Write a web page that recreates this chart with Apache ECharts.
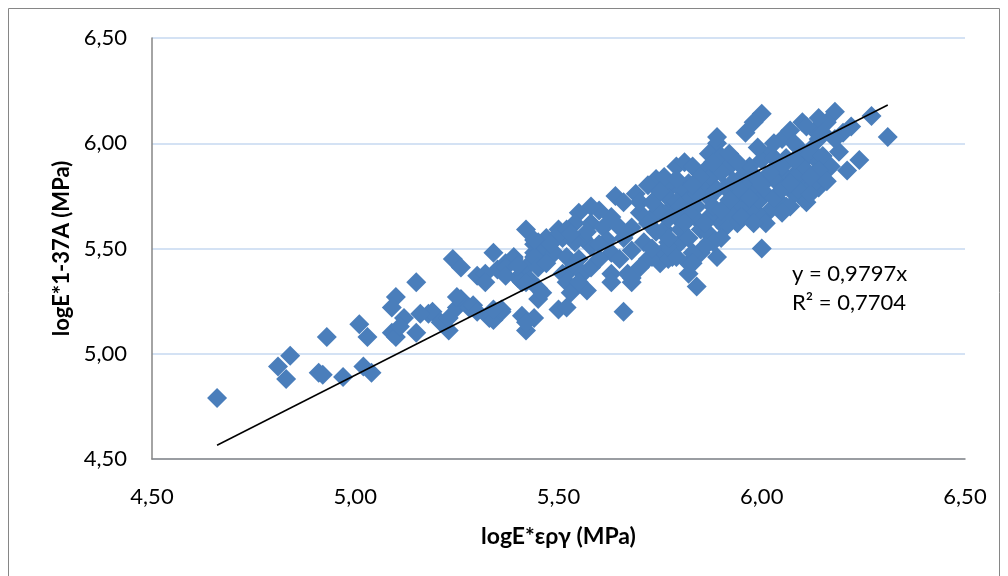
<!DOCTYPE html>
<html>
<head>
<meta charset="utf-8">
<script src="https://cdn.jsdelivr.net/npm/echarts@6/dist/echarts.min.js"></script>
<style>
  html, body { margin: 0; padding: 0; background: #ffffff; }
  #chart { width: 1008px; height: 576px; }
</style>
</head>
<body>
<div id="chart"></div>
<script>
// logE*εργ (MPa) — horizontal values
const logEepy = [
  4.66, 4.81, 4.83, 4.84, 4.91, 4.92, 4.93, 4.97, 5.01, 5.03, 5.02, 5.04, 5.10, 5.09, 5.12, 5.09,
  5.10, 5.11, 5.15, 5.15, 5.18, 5.19, 5.21, 5.23, 5.23, 5.25, 5.26, 5.28, 5.29, 5.30, 5.33, 5.34,
  5.36, 5.41, 5.42, 5.44, 5.45, 5.45, 5.24, 5.26, 5.30, 5.32, 5.32, 5.35, 5.37, 5.39, 5.41, 5.42,
  5.44, 5.41, 5.43, 5.34, 5.42, 5.44, 5.79, 5.74, 5.72, 5.64, 5.66, 5.69, 5.77, 5.70, 5.73, 5.75,
  5.78, 5.76, 5.77, 5.78, 5.75, 5.72, 5.68, 5.66, 5.68, 5.63, 5.60, 5.58, 5.55, 5.54, 5.58, 5.61,
  5.62, 5.58, 5.56, 5.54, 5.51, 5.50, 5.47, 5.45, 5.46, 5.44, 5.49, 5.52, 5.55, 5.53, 5.56, 5.58,
  5.63, 5.65, 5.63, 5.67, 5.68, 5.63, 5.70, 5.73, 5.76, 5.39, 5.37, 5.40, 5.45, 5.42, 5.37, 5.46,
  5.51, 5.52, 5.53, 5.57, 5.55, 5.36, 5.50, 5.52, 5.66, 5.44, 5.84, 5.89, 6.00, 5.82, 5.68, 5.77,
  5.79, 5.82, 5.85, 5.87, 5.80, 5.77, 6.00, 5.96, 5.98, 5.89, 5.87, 5.90, 5.81, 5.83, 5.86, 6.05,
  6.07, 6.10, 6.13, 6.09, 6.11, 6.14, 6.06, 6.02, 6.00, 5.97, 5.95, 5.92, 5.90, 5.87, 5.85, 5.82,
  5.80, 5.77, 5.76, 5.77, 5.79, 5.82, 5.84, 5.87, 5.89, 5.91, 5.94, 5.96, 5.99, 6.01, 6.04, 6.06,
  6.09, 6.11, 6.14, 6.10, 6.11, 6.08, 6.06, 6.04, 6.01, 5.99, 6.02, 6.00, 6.01, 5.97, 5.95, 5.92,
  5.94, 5.91, 5.89, 5.87, 5.84, 5.82, 5.79, 5.77, 5.77, 5.80, 5.82, 5.85, 5.87, 5.90, 5.88, 5.86,
  5.83, 5.83, 6.18, 6.27, 6.31, 6.24, 6.21, 6.17, 6.19, 6.22, 6.20, 6.16, 6.14, 6.11, 6.14, 6.18,
  6.12, 6.10, 6.13, 6.11, 6.15, 6.07, 6.05, 6.13, 6.14, 6.08, 6.04, 6.08, 6.05, 6.03, 6.09, 6.12,
  5.89, 5.50, 5.52, 5.42, 5.25, 5.34, 5.16,
  5.70, 5.72, 5.74, 5.80, 5.81, 5.84, 5.86, 5.88, 5.90, 5.92, 5.93, 5.95, 5.97, 5.98, 6.00, 6.02,
  6.03, 6.05, 6.07, 6.08, 5.92, 5.94, 5.88, 5.85, 5.83, 5.79, 5.75, 5.73, 5.65, 5.60, 5.57, 5.53,
  5.48, 5.40, 5.47, 5.60, 5.71, 5.73, 5.95, 5.98, 6.12, 6.16, 6.03, 5.99, 6.15
];

// logE*1-37A (MPa) — vertical values, same order
const logE137A = [
  4.79, 4.94, 4.88, 4.99, 4.91, 4.90, 5.08, 4.89, 5.14, 5.08, 4.94, 4.91, 5.27, 5.22, 5.17, 5.10,
  5.08, 5.13, 5.34, 5.10, 5.19, 5.20, 5.15, 5.11, 5.17, 5.22, 5.26, 5.22, 5.23, 5.20, 5.17, 5.16,
  5.20, 5.18, 5.11, 5.17, 5.26, 5.31, 5.45, 5.41, 5.37, 5.38, 5.34, 5.40, 5.43, 5.46, 5.38, 5.41,
  5.48, 5.34, 5.35, 5.48, 5.59, 5.52, 5.89, 5.83, 5.80, 5.75, 5.72, 5.76, 5.78, 5.67, 5.65, 5.68,
  5.70, 5.59, 5.53, 5.46, 5.43, 5.45, 5.49, 5.55, 5.60, 5.65, 5.68, 5.70, 5.67, 5.62, 5.62, 5.60,
  5.54, 5.51, 5.55, 5.53, 5.55, 5.59, 5.55, 5.53, 5.49, 5.46, 5.48, 5.46, 5.45, 5.40, 5.38, 5.41,
  5.48, 5.45, 5.38, 5.38, 5.34, 5.34, 5.41, 5.46, 5.48, 5.45, 5.41, 5.36, 5.41, 5.34, 5.37, 5.29,
  5.38, 5.34, 5.29, 5.30, 5.34, 5.21, 5.21, 5.22, 5.20, 5.54, 5.32, 5.46, 5.50, 5.38, 5.36, 5.45,
  5.46, 5.43, 5.48, 5.53, 5.53, 5.51, 6.14, 6.05, 6.10, 6.00, 5.95, 5.94, 5.91, 5.89, 5.87, 6.02,
  6.06, 6.10, 6.06, 5.98, 5.93, 5.91, 5.93, 5.95, 5.92, 5.89, 5.84, 5.89, 5.86, 5.83, 5.79, 5.81,
  5.78, 5.81, 5.84, 5.74, 5.72, 5.73, 5.70, 5.74, 5.78, 5.79, 5.76, 5.81, 5.78, 5.83, 5.87, 5.84,
  5.87, 5.83, 5.79, 5.74, 5.72, 5.76, 5.70, 5.73, 5.76, 5.72, 5.68, 5.65, 5.62, 5.68, 5.70, 5.67,
  5.62, 5.60, 5.64, 5.65, 5.64, 5.67, 5.65, 5.64, 5.55, 5.59, 5.55, 5.59, 5.57, 5.55, 5.53, 5.51,
  5.48, 5.43, 6.15, 6.13, 6.03, 5.92, 5.87, 5.89, 5.96, 6.08, 6.05, 6.10, 6.12, 6.08, 6.02, 6.02,
  5.97, 5.89, 5.86, 5.79, 5.94, 5.70, 5.67, 5.81, 5.87, 6.00, 5.81, 5.84, 5.89, 5.93, 5.78, 5.76,
  6.03, 5.57, 5.59, 5.15, 5.27, 5.21, 5.19,
  5.72, 5.62, 5.58, 5.70, 5.62, 5.76, 5.62, 5.70, 5.68, 5.73, 5.82, 5.77, 5.74, 5.85, 5.80, 5.86,
  5.74, 5.78, 5.81, 5.92, 5.95, 5.91, 5.91, 5.84, 5.80, 5.83, 5.77, 5.72, 5.60, 5.52, 5.58, 5.57,
  5.52, 5.42, 5.43, 5.45, 5.53, 5.50, 5.65, 5.62, 5.84, 5.82, 6.00, 5.98, 6.05
];

// Linear trendline through the origin and its fit statistic
const trendSlope = 0.9797;
const trendR2 = 0.7704;

// Axis ranges and tick step (shared by both axes)
const axisMin = 4.5;
const axisMax = 6.5;
const axisStep = 0.5;

const comma = (v, d) => v.toFixed(d).replace('.', ',');

const points = logEepy.map((x, i) => [x, logE137A[i]]);
const xLo = Math.min(...logEepy);
const xHi = Math.max(...logEepy);
const trendPoints = [[xLo, trendSlope * xLo], [xHi, trendSlope * xHi]];

const font = 'Lato, "Open Sans", "DejaVu Sans", sans-serif';

const chart = echarts.init(document.getElementById('chart'), null, { renderer: 'canvas' });
chart.setOption({
  animation: false,
  backgroundColor: '#ffffff',
  grid: { left: 152, right: 43, top: 38, bottom: 117, containLabel: false },
  xAxis: {
    type: 'value',
    min: axisMin, max: axisMax, interval: axisStep,
    name: 'logE*εργ (MPa)',
    nameLocation: 'middle',
    nameGap: 66,
    nameTextStyle: { fontFamily: font, fontWeight: 'bold', fontSize: 23, color: '#000000' },
    axisLine: { show: true, lineStyle: { color: '#868686', width: 1.5 } },
    axisTick: { show: false },
    splitLine: { show: false },
    axisLabel: {
      margin: 27, fontFamily: font, fontSize: 22, color: '#000000',
      formatter: v => comma(v, 2)
    }
  },
  yAxis: {
    type: 'value',
    min: axisMin, max: axisMax, interval: axisStep,
    name: 'logE*1-37A (MPa)',
    nameLocation: 'middle',
    nameRotate: 90,
    nameGap: 78,
    nameTextStyle: { fontFamily: font, fontWeight: 'bold', fontSize: 22, color: '#000000' },
    axisLine: { show: true, lineStyle: { color: '#868686', width: 1.5 } },
    axisTick: { show: false },
    splitLine: { show: true, lineStyle: { color: '#C6D9F1', width: 1.5 } },
    axisLabel: {
      margin: 25, fontFamily: font, fontSize: 22, color: '#000000',
      formatter: v => comma(v, 2)
    }
  },
  series: [
    {
      type: 'scatter',
      data: points,
      symbol: 'diamond',
      symbolSize: 20,
      itemStyle: { color: '#4A7EBB', opacity: 1 },
      emphasis: { disabled: true },
      z: 2
    },
    {
      type: 'line',
      data: trendPoints,
      symbol: 'none',
      lineStyle: { color: '#000000', width: 1.5 },
      emphasis: { disabled: true },
      z: 3
    }
  ],
  graphic: [
    {
      type: 'rect',
      shape: { x: 8.5, y: 8.5, width: 991, height: 600 },
      style: { fill: 'none', stroke: '#868686', lineWidth: 1 },
      silent: true, z: -1
    },
    {
      type: 'text', left: 792, top: 263,
      style: { text: 'y = ' + comma(trendSlope, 4) + 'x', font: '22px ' + font, fill: '#000000' }
    },
    {
      type: 'text', left: 792, top: 292,
      style: { text: 'R² = ' + comma(trendR2, 4), font: '22px ' + font, fill: '#000000' }
    }
  ]
});
</script>
</body>
</html>
